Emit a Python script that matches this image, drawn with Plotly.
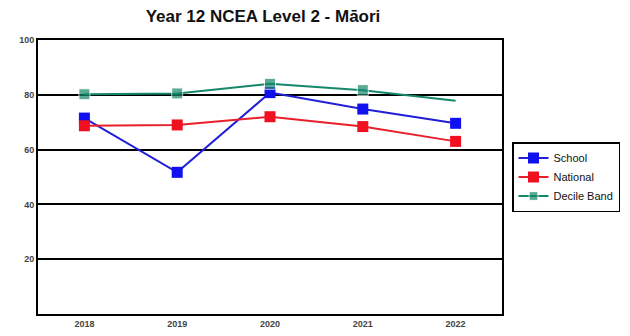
import plotly.graph_objects as go

years = ["2018", "2019", "2020", "2021", "2022"]
school = [71.5, 51.7, 80.8, 74.8, 69.6]
national = [68.7, 69.0, 72.0, 68.4, 63.0]
decile = [80.2, 80.5, 84.0, 81.7, 77.8]
y_ticks = [20, 40, 60, 80, 100]

# page body has an 8px margin; work in figure coordinates = page - 8
OFF = 8
W, H = 630 - OFF, 336 - OFF
L, R, T, B = 38 - OFF, 8, 40 - OFF, 336 - 314
plot_w = 502 - 38
paper_w = W - L - R
paper_h = H - T - B

fig = go.Figure()
fig.add_trace(go.Scatter(x=years, y=school, name="School", mode="lines+markers",
                         line=dict(color="#1f1fd6", width=2),
                         marker=dict(symbol="square", size=11, color="#1010f0")))
fig.add_trace(go.Scatter(x=years, y=national, name="National", mode="lines+markers",
                         line=dict(color="#e8202a", width=2),
                         marker=dict(symbol="square", size=11, color="#f01020")))
fig.add_trace(go.Scatter(x=years, y=decile, name="Decile Band", mode="lines+markers",
                         line=dict(color="#15876a", width=2),
                         marker=dict(symbol="square", size=[11, 11, 11, 11, 0], color="#15876a")))

fig.update_layout(
    width=W, height=H,
    margin=dict(l=L, r=R, t=T, b=B),
    paper_bgcolor="white", plot_bgcolor="white",
    title=dict(text="<b>Year 12 NCEA Level 2 - Māori</b>", x=(263 - OFF) / W, xanchor="center",
               y=1 - (16 - OFF) / H, yanchor="middle",
               font=dict(family="Liberation Sans, Arial", size=17, color="#111")),
    font=dict(family="Liberation Sans, Arial", color="#333"),
    showlegend=True,
    legend=dict(x=(512 - 38) / paper_w, y=(314 - 142) / paper_h, xanchor="left", yanchor="top",
                bgcolor="white", bordercolor="black", borderwidth=1.5,
                font=dict(size=11, color="#111"), itemwidth=30,
                tracegroupgap=0, traceorder="normal"),
)
fig.update_xaxes(type="category", range=[-0.5, 4.5], domain=[0, plot_w / paper_w],
                 showline=True, linecolor="black", automargin=False,
                 linewidth=2, mirror=True, showgrid=False, ticks="",
                 tickvals=years, ticktext=["<b>%s</b>" % y for y in years],
                 tickfont=dict(size=9, color="#444"))
fig.update_yaxes(range=[0, 100], tickvals=y_ticks, ticktext=["<b>%d</b>" % v for v in y_ticks],
                 showline=True, linecolor="black", automargin=False,
                 linewidth=2, mirror=True, showgrid=True, gridcolor="black", gridwidth=2,
                 zeroline=False, ticks="", tickfont=dict(size=9, color="#444"))

fig.write_html("out.html")
